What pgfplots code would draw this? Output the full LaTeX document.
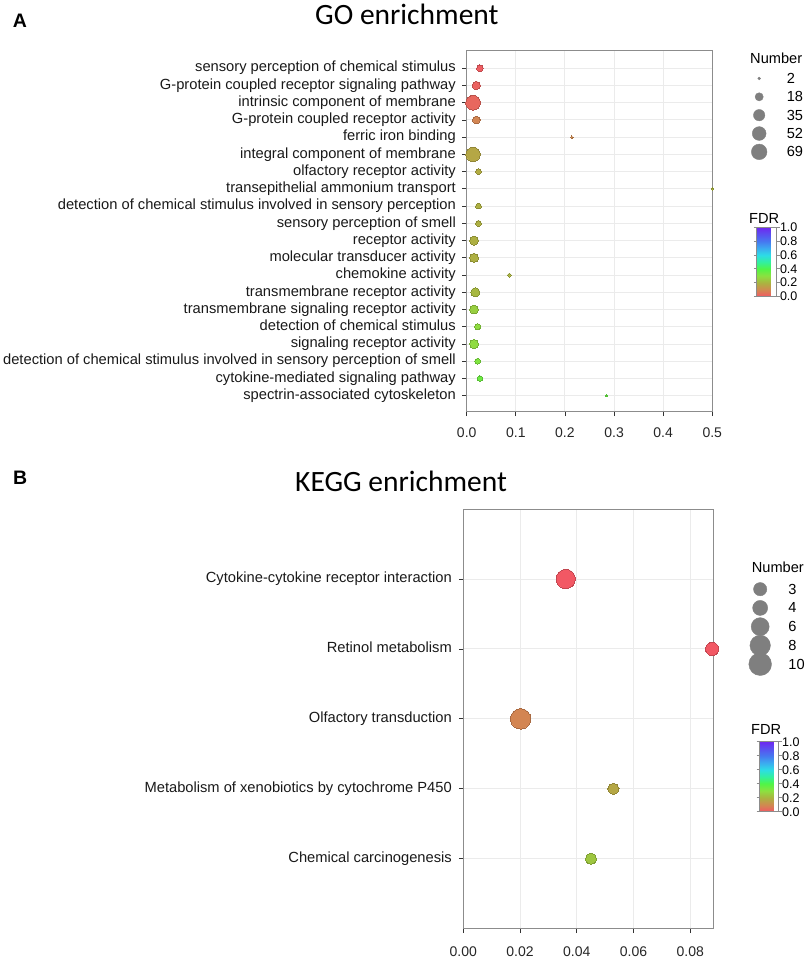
\documentclass[border=0pt]{standalone}
\usepackage{fontspec}
\setmainfont{Liberation Sans}
\newfontfamily\carlito{Carlito}
\usepackage{pgfplots}
\pgfplotsset{compat=1.18}
\usepackage{pgfplotstable}

\definecolor{gridc}{HTML}{EBEBEB}
\definecolor{framec}{HTML}{8C8C8C}
\definecolor{tickc}{HTML}{333333}
\definecolor{keyc}{HTML}{7F7F7F}

\pgfplotsset{colormap={fdr}{rgb255(0cm)=(242,88,100); rgb255(1cm)=(208,138,80); rgb255(2cm)=(170,180,64); rgb255(3cm)=(140,225,64); rgb255(4cm)=(80,245,70); rgb255(5cm)=(50,240,160); rgb255(6cm)=(45,220,230); rgb255(7cm)=(60,170,240); rgb255(8cm)=(70,120,240); rgb255(10cm)=(110,40,240)}}

\pgfplotsset{bubble/.style={
  scale only axis, clip=false,
  y dir=reverse, tick pos=left, tick align=outside,
  major tick length=4.5bp,
  tick style={draw=tickc, line width=0.8bp},
  axis line style={draw=framec, line width=1bp},
  grid=major, major grid style={draw=gridc, line width=0.9bp},
  colormap name=fdr, point meta min=0, point meta max=1,
  /pgf/number format/assume math mode=true,
  scaled x ticks=false,
  xticklabel style={font=\fontsize{14bp}{16bp}\selectfont, text=black!85, inner sep=0pt},
  yticklabel style={font=\fontsize{14.7bp}{17bp}\selectfont, text=black!90, inner sep=0pt, text height=10.5bp, text depth=3bp},
  legend cell align=left,
}}

\pgfplotstableread{
x y n fdr
0.027 1 10 0.01
0.0196 2 17 0.02
0.013 3 69 0.03
0.0196 4 14 0.09
0.214 5 2 0.10
0.013 6 66 0.17
0.024 7 7 0.18
0.5 8 2 0.20
0.024 9 7 0.19
0.024 10 7 0.19
0.015 11 21 0.19
0.015 12 21 0.19
0.087 13 3 0.20
0.0176 14 22 0.21
0.015 15 20 0.26
0.0224 16 8 0.29
0.015 17 21 0.29
0.0224 18 7 0.32
0.027 19 6 0.35
0.285 20 2 0.36
}\goTable

\pgfplotstableread{
x y n fdr
0.0361 1 7 0.00
0.0877 2 3 0.00
0.0202 3 8 0.09
0.0529 4 2 0.17
0.0450 5 2 0.24
}\keggTable

\begin{document}
\begin{tikzpicture}
\useasboundingbox (0bp,0bp) rectangle (809bp,959bp);

% ---------------- Panel A ----------------
\begin{axis}[bubble,
  at={(466.7bp,547.3bp)}, anchor=south west,
  width=245.6bp, height=360.7bp,
  xmin=0, xmax=0.5, ymin=0, ymax=20.93,
  xtick={0,0.1,0.2,0.3,0.4,0.5},
  xticklabel style={yshift=-11.5bp, /pgf/number format/fixed, /pgf/number format/fixed zerofill, /pgf/number format/precision=1},
  ytick={1,...,20},
  yticklabel style={xshift=-6.2bp},
  yticklabels={sensory perception of chemical stimulus, G-protein coupled receptor signaling pathway, intrinsic component of membrane, G-protein coupled receptor activity, ferric iron binding, integral component of membrane, olfactory receptor activity, transepithelial ammonium transport, detection of chemical stimulus involved in sensory perception, sensory perception of smell, receptor activity, molecular transducer activity, chemokine activity, transmembrane receptor activity, transmembrane signaling receptor activity, detection of chemical stimulus, signaling receptor activity, detection of chemical stimulus involved in sensory perception of smell, cytokine-mediated signaling pathway, spectrin-associated cytoskeleton},
  legend style={at={(1.1527,0.9498)}, anchor=north west, draw=none, fill=none, inner xsep=0pt, inner ysep=0pt, column sep=18.5bp, row sep=0pt, nodes={inner sep=0pt, text depth=0pt}, font=\fontsize{14.6bp}{16bp}\selectfont},
  legend image code/.code={\path[draw=none, fill=none] (-9.175bp,-9.175bp) rectangle (9.175bp,9.175bp); \begin{scope}[overlay]\draw[#1] plot coordinates {(0bp,0bp)};\end{scope}},
  colorbar,
  colorbar style={at={(parent axis.north east)}, anchor=north west, xshift=36bp, yshift=-176.5bp,
    width=20bp, height=69bp, scale only axis, y dir=normal,
    ytick={0,0.2,0.4,0.6,0.8,1},
    /pgf/number format/assume math mode=true,
    yticklabel style={font=\fontsize{12.5bp}{14bp}\selectfont, inner sep=0pt, xshift=0bp, /pgf/number format/fixed, /pgf/number format/fixed zerofill, /pgf/number format/precision=1},
    major tick length=3bp, tick align=outside, tick style={draw=framec, line width=0.8bp},
    axis line style={draw=framec, line width=0.8bp}},
]
\addplot[scatter, only marks, mark=*, forget plot, scatter src=explicit,
  visualization depends on={1.225*(1+5*sqrt((\thisrow{n}-2)/67)) \as \msize},
  scatter/@pre marker code/.append style={/tikz/mark size=\msize bp},
  mark options={line width=0pt}]
  table[x=x, y=y, meta=fdr]{\goTable};
\addlegendimage{only marks, mark=*, mark size=1.4bp, draw=keyc, fill=keyc}
\addlegendentry{2}
\addlegendimage{only marks, mark=*, mark size=4.1bp, draw=keyc, fill=keyc}
\addlegendentry{18}
\addlegendimage{only marks, mark=*, mark size=5.7bp, draw=keyc, fill=keyc}
\addlegendentry{35}
\addlegendimage{only marks, mark=*, mark size=6.9bp, draw=keyc, fill=keyc}
\addlegendentry{52}
\addlegendimage{only marks, mark=*, mark size=7.8bp, draw=keyc, fill=keyc}
\addlegendentry{69}
\end{axis}

% ---------------- Panel B ----------------
\begin{axis}[bubble,
  at={(463.3bp,30.3bp)}, anchor=south west,
  width=250bp, height=419.7bp,
  xmin=0, xmax=0.0881, ymin=0, ymax=6,
  xtick={0,0.02,0.04,0.06,0.08},
  xticklabel style={yshift=-13.5bp, /pgf/number format/fixed, /pgf/number format/fixed zerofill, /pgf/number format/precision=2},
  ytick={1,...,5},
  yticklabel style={xshift=-6.8bp},
  yticklabels={Cytokine-cytokine receptor interaction, Retinol metabolism, Olfactory transduction, Metabolism of xenobiotics by cytochrome P450, Chemical carcinogenesis},
  legend style={at={(1.1492,0.8318)}, anchor=north west, draw=none, fill=none, inner xsep=0pt, inner ysep=0pt, column sep=18.9bp, row sep=0pt, nodes={inner sep=0pt, text depth=0pt}, font=\fontsize{14.6bp}{16bp}\selectfont},
  legend image code/.code={\path[draw=none, fill=none] (-9.375bp,-9.375bp) rectangle (9.375bp,9.375bp); \begin{scope}[overlay]\draw[#1] plot coordinates {(0bp,0bp)};\end{scope}},
  colorbar,
  colorbar style={at={(parent axis.north east)}, anchor=north west, xshift=37.7bp, yshift=-232.7bp,
    width=19bp, height=70bp, scale only axis, y dir=normal,
    ytick={0,0.2,0.4,0.6,0.8,1},
    /pgf/number format/assume math mode=true,
    yticklabel style={font=\fontsize{12.5bp}{14bp}\selectfont, inner sep=0pt, xshift=0.5bp, /pgf/number format/fixed, /pgf/number format/fixed zerofill, /pgf/number format/precision=1},
    major tick length=3bp, tick align=outside, tick style={draw=framec, line width=0.8bp},
    axis line style={draw=framec, line width=0.8bp}},
]
\addplot[scatter, only marks, mark=*, forget plot, scatter src=explicit,
  visualization depends on={0.96+3.285*sqrt(\thisrow{n}) \as \msize},
  scatter/@pre marker code/.append style={/tikz/mark size=\msize bp},
  mark options={line width=0pt}]
  table[x=x, y=y, meta=fdr]{\keggTable};
\addlegendimage{only marks, mark=*, mark size=6.65bp, draw=keyc, fill=keyc}
\addlegendentry{3}
\addlegendimage{only marks, mark=*, mark size=7.53bp, draw=keyc, fill=keyc}
\addlegendentry{4}
\addlegendimage{only marks, mark=*, mark size=9.01bp, draw=keyc, fill=keyc}
\addlegendentry{6}
\addlegendimage{only marks, mark=*, mark size=10.25bp, draw=keyc, fill=keyc}
\addlegendentry{8}
\addlegendimage{only marks, mark=*, mark size=11.35bp, draw=keyc, fill=keyc}
\addlegendentry{10}
\end{axis}

% ---------------- Texts ----------------
\node[anchor=base west, inner sep=0pt, font=\carlito\fontsize{29.5bp}{32bp}\selectfont] at (315bp,934bp) {GO enrichment};
\node[anchor=base west, inner sep=0pt, font=\carlito\fontsize{29.5bp}{32bp}\selectfont] at (295bp,467bp) {KEGG enrichment};
\node[anchor=base west, inner sep=0pt, font=\bfseries\fontsize{19.5bp}{22bp}\selectfont] at (12.7bp,931bp) {A};
\node[anchor=base west, inner sep=0pt, font=\bfseries\fontsize{19.5bp}{22bp}\selectfont] at (13bp,474bp) {B};
\node[anchor=base west, inner sep=0pt, font=\fontsize{14.6bp}{16bp}\selectfont] at (750bp,895.7bp) {Number};
\node[anchor=base west, inner sep=0pt, font=\fontsize{14.6bp}{16bp}\selectfont] at (751.7bp,386bp) {Number};
\node[anchor=base west, inner sep=0pt, font=\fontsize{14.6bp}{16bp}\selectfont] at (749bp,735.7bp) {FDR};
\node[anchor=base west, inner sep=0pt, font=\fontsize{14.6bp}{16bp}\selectfont] at (751bp,224bp) {FDR};
\end{tikzpicture}
\end{document}
